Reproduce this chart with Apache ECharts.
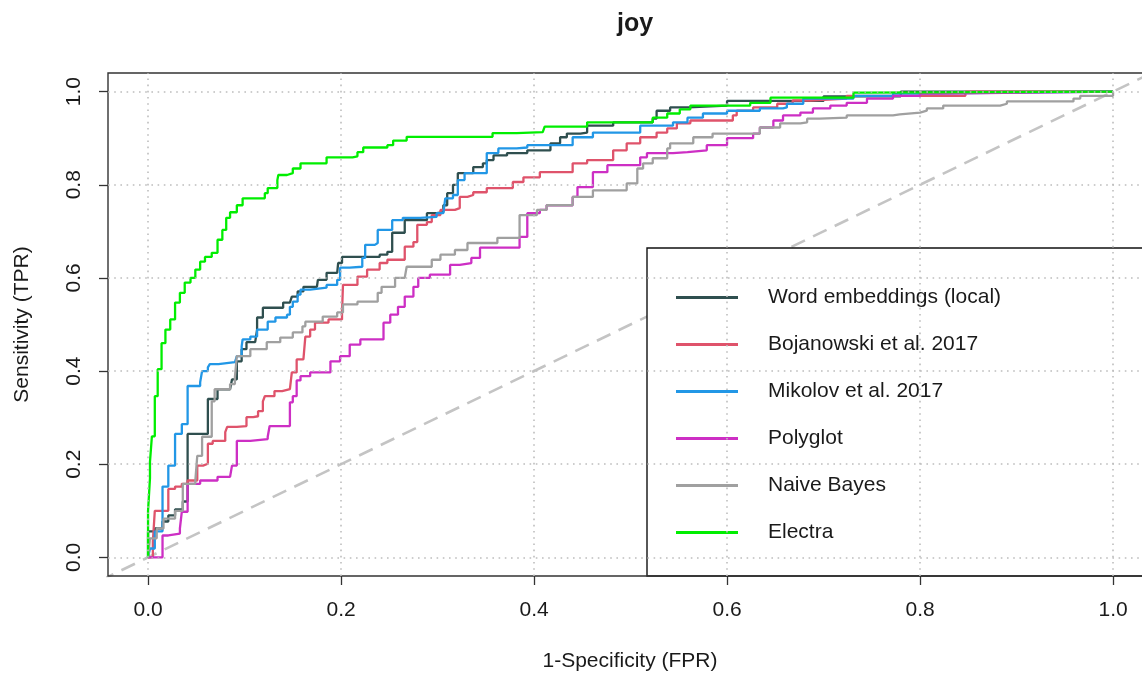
<!DOCTYPE html>
<html>
<head>
<meta charset="utf-8">
<title>joy</title>
<script src="https://cdn.jsdelivr.net/npm/echarts@6/dist/echarts.min.js"></script>
<style>
  html, body { margin: 0; padding: 0; background: #fff; }
  #chart { width: 1142px; height: 684px; }
</style>
</head>
<body>
<div id="chart"></div>
<script>
// ROC curves for the "joy" classifier comparison: [FPR, TPR] vertices of each curve.
const seriesNames = [
  'Word embeddings (local)',
  'Bojanowski et al. 2017',
  'Mikolov et al. 2017',
  'Polyglot',
  'Naive Bayes',
  'Electra'
];
const seriesColors = ['#2F4F4F', '#DF536B', '#2297E6', '#CD2FC4', '#A0A0A0', '#00EE00'];

const tickValues = [0, 0.2, 0.4, 0.6, 0.8, 1.0];

const wordEmbeddings = [
  [0,0],[0,0.056],[0.007,0.056],[0.007,0.062],[0.015,0.062],[0.015,0.077],[0.021,0.077],
  [0.021,0.090],[0.028,0.090],[0.028,0.103],[0.036,0.103],[0.036,0.120],[0.041,0.120],
  [0.041,0.265],[0.062,0.265],[0.062,0.340],[0.069,0.340],[0.072,0.361],[0.085,0.361],
  [0.087,0.382],[0.092,0.382],[0.092,0.421],[0.097,0.421],[0.097,0.447],[0.102,0.447],
  [0.102,0.462],[0.111,0.462],[0.113,0.489],[0.113,0.515],[0.119,0.515],[0.119,0.536],
  [0.140,0.536],[0.140,0.547],[0.147,0.547],[0.149,0.560],[0.155,0.571],[0.161,0.581],
  [0.175,0.581],[0.176,0.596],[0.185,0.603],[0.185,0.611],[0.196,0.611],[0.197,0.632],
  [0.201,0.645],[0.220,0.645],[0.240,0.650],[0.248,0.656],[0.253,0.697],[0.263,0.697],
  [0.266,0.724],[0.289,0.739],[0.299,0.741],[0.306,0.756],[0.310,0.782],[0.316,0.800],
  [0.321,0.810],[0.321,0.825],[0.337,0.838],[0.347,0.846],[0.351,0.853],[0.358,0.863],
  [0.372,0.868],[0.393,0.874],[0.417,0.889],[0.427,0.902],[0.434,0.910],[0.448,0.912],
  [0.455,0.927],[0.482,0.934],[0.523,0.942],[0.527,0.959],[0.541,0.966],[0.560,0.970],
  [0.600,0.980],[0.700,0.990],[0.780,1.0],[1.0,1.0]
];

const bojanowski = [
  [0,0],[0.005,0.034],[0.007,0.100],[0.015,0.100],[0.021,0.147],[0.028,0.152],[0.035,0.158],
  [0.041,0.165],[0.051,0.197],[0.057,0.201],[0.062,0.244],[0.067,0.250],[0.080,0.269],
  [0.082,0.280],[0.092,0.282],[0.102,0.301],[0.109,0.303],[0.114,0.314],[0.119,0.335],
  [0.121,0.346],[0.131,0.357],[0.139,0.361],[0.147,0.365],[0.149,0.397],[0.154,0.425],
  [0.161,0.425],[0.163,0.474],[0.168,0.489],[0.173,0.504],[0.187,0.511],[0.201,0.526],
  [0.202,0.585],[0.217,0.603],[0.227,0.618],[0.240,0.632],[0.248,0.639],[0.266,0.667],
  [0.275,0.677],[0.279,0.714],[0.289,0.720],[0.294,0.735],[0.303,0.746],[0.318,0.750],
  [0.323,0.774],[0.331,0.778],[0.337,0.784],[0.351,0.793],[0.378,0.806],[0.389,0.816],
  [0.406,0.827],[0.440,0.846],[0.455,0.853],[0.482,0.874],[0.496,0.889],[0.510,0.902],
  [0.527,0.912],[0.538,0.921],[0.548,0.932],[0.562,0.938],[0.606,0.949],[0.610,0.959],
  [0.627,0.966],[0.652,0.974],[0.668,0.981],[0.686,0.985],[0.724,0.991],[0.847,0.991],
  [0.847,1.0],[1.0,1.0]
];

const mikolov = [
  [0,0],[0.002,0.019],[0.007,0.026],[0.007,0.056],[0.015,0.056],[0.015,0.152],[0.021,0.152],
  [0.021,0.197],[0.028,0.197],[0.028,0.265],[0.035,0.265],[0.035,0.286],[0.041,0.286],
  [0.041,0.368],[0.054,0.376],[0.056,0.400],[0.062,0.408],[0.064,0.415],[0.073,0.419],
  [0.090,0.419],[0.092,0.432],[0.097,0.453],[0.098,0.468],[0.106,0.474],[0.113,0.489],
  [0.124,0.506],[0.132,0.515],[0.144,0.521],[0.147,0.538],[0.150,0.549],[0.155,0.564],
  [0.158,0.575],[0.168,0.579],[0.185,0.585],[0.196,0.596],[0.199,0.622],[0.209,0.624],
  [0.222,0.643],[0.225,0.671],[0.235,0.675],[0.238,0.703],[0.253,0.724],[0.264,0.729],
  [0.282,0.731],[0.299,0.739],[0.306,0.741],[0.308,0.771],[0.316,0.778],[0.321,0.810],
  [0.328,0.825],[0.351,0.868],[0.363,0.878],[0.382,0.880],[0.393,0.885],[0.440,0.902],
  [0.461,0.912],[0.510,0.927],[0.544,0.934],[0.559,0.944],[0.575,0.953],[0.600,0.959],
  [0.634,0.964],[0.658,0.966],[0.662,0.974],[0.679,0.976],[0.679,0.985],[0.731,0.991],
  [0.772,0.996],[0.800,1.0],[1.0,1.0]
];

const polyglot = [
  [0,0],[0.015,0.034],[0.015,0.047],[0.021,0.051],[0.033,0.062],[0.035,0.098],[0.041,0.098],
  [0.041,0.158],[0.054,0.165],[0.072,0.173],[0.085,0.175],[0.087,0.197],[0.092,0.201],
  [0.092,0.250],[0.106,0.254],[0.124,0.259],[0.126,0.282],[0.147,0.333],[0.150,0.346],
  [0.154,0.380],[0.158,0.389],[0.168,0.397],[0.189,0.421],[0.199,0.432],[0.209,0.457],
  [0.220,0.468],[0.244,0.504],[0.251,0.521],[0.259,0.538],[0.266,0.560],[0.275,0.581],
  [0.280,0.600],[0.292,0.607],[0.313,0.628],[0.323,0.632],[0.335,0.643],[0.344,0.665],
  [0.385,0.688],[0.393,0.739],[0.406,0.746],[0.413,0.756],[0.440,0.774],[0.445,0.795],
  [0.461,0.827],[0.476,0.842],[0.510,0.859],[0.517,0.868],[0.544,0.870],[0.559,0.874],
  [0.579,0.885],[0.600,0.900],[0.627,0.910],[0.634,0.923],[0.648,0.938],[0.658,0.949],
  [0.676,0.955],[0.689,0.964],[0.707,0.970],[0.724,0.976],[0.745,0.985],[0.772,0.991],
  [0.800,0.996],[0.820,1.0],[1.0,1.0]
];

const naiveBayes = [
  [0,0],[0.002,0.041],[0.009,0.041],[0.009,0.062],[0.016,0.062],[0.016,0.083],[0.028,0.083],
  [0.028,0.100],[0.036,0.100],[0.036,0.158],[0.049,0.165],[0.051,0.218],[0.056,0.237],
  [0.056,0.259],[0.066,0.259],[0.066,0.335],[0.069,0.361],[0.085,0.372],[0.090,0.387],
  [0.092,0.432],[0.106,0.447],[0.123,0.462],[0.137,0.472],[0.150,0.483],[0.160,0.496],
  [0.163,0.506],[0.181,0.517],[0.196,0.526],[0.202,0.543],[0.217,0.549],[0.238,0.568],
  [0.242,0.581],[0.256,0.600],[0.266,0.603],[0.268,0.624],[0.294,0.639],[0.303,0.650],
  [0.318,0.660],[0.331,0.675],[0.362,0.686],[0.385,0.692],[0.385,0.735],[0.403,0.746],
  [0.413,0.756],[0.440,0.774],[0.461,0.788],[0.496,0.803],[0.507,0.835],[0.513,0.846],
  [0.523,0.857],[0.538,0.878],[0.541,0.889],[0.565,0.902],[0.585,0.910],[0.634,0.923],
  [0.655,0.932],[0.676,0.934],[0.683,0.942],[0.696,0.944],[0.724,0.949],[0.772,0.951],
  [0.779,0.955],[0.800,0.959],[0.807,0.964],[0.824,0.970],[0.883,0.974],[0.890,0.979],
  [0.959,0.985],[0.966,0.991],[1.0,0.998],[1.0,1.0]
];

const electra = [
  [0,0],[0,0.100],[0.002,0.170],[0.002,0.205],[0.004,0.260],[0.007,0.346],[0.010,0.404],
  [0.014,0.460],[0.018,0.489],[0.023,0.511],[0.028,0.547],[0.033,0.568],[0.038,0.590],
  [0.044,0.600],[0.049,0.618],[0.054,0.635],[0.059,0.645],[0.066,0.654],[0.072,0.682],
  [0.077,0.703],[0.081,0.729],[0.085,0.741],[0.092,0.756],[0.098,0.771],[0.114,0.771],
  [0.121,0.782],[0.124,0.793],[0.134,0.810],[0.135,0.821],[0.144,0.825],[0.150,0.835],
  [0.158,0.846],[0.180,0.846],[0.185,0.859],[0.212,0.861],[0.217,0.870],[0.223,0.880],
  [0.248,0.885],[0.254,0.895],[0.268,0.903],[0.354,0.903],[0.357,0.911],[0.382,0.913],
  [0.409,0.917],[0.411,0.925],[0.444,0.925],[0.455,0.934],[0.523,0.944],[0.538,0.953],
  [0.551,0.962],[0.562,0.970],[0.624,0.976],[0.645,0.987],[0.731,0.998],[0.740,1.0],[1.0,1.0]
];

const curves = [wordEmbeddings, bojanowski, mikolov, polyglot, naiveBayes, electra];

// chance line, clipped to the plotting region
const chanceLine = [[-0.05, -0.05], [1.05, 1.05]];

// visible window of the axes (the right end of the plot region runs past the page edge)
const X_RANGE = [-0.0415, 1.030];
const Y_RANGE = [-0.04, 1.04];

const FONT = '"Liberation Sans", Arial, Helvetica, sans-serif';
const TEXT = '#1a1a1a';

const GRID = { left: 108, top: 73, right: 0, bottom: 108 };

const chart = echarts.init(document.getElementById('chart'), null, { renderer: 'canvas' });

const gridMarks = tickValues.map(v => ({ xAxis: v }))
  .concat(tickValues.map(v => ({ yAxis: v })));

const series = [{
  name: 'chance',
  type: 'line',
  data: chanceLine,
  symbol: 'none',
  silent: true,
  z: 1,
  lineStyle: { color: '#C4C4C4', width: 2.6, type: [15, 9] },
  markLine: {
    silent: true,
    symbol: 'none',
    label: { show: false },
    lineStyle: { color: '#BDBDBD', width: 1.6, type: [1.6, 4.6] },
    data: gridMarks,
    animation: false
  }
}].concat(curves.map((d, i) => ({
  name: seriesNames[i],
  type: 'line',
  data: d,
  step: 'end',
  symbol: 'none',
  z: 2,
  color: seriesColors[i],
  lineStyle: { color: seriesColors[i], width: 2.3 }
})));

const axisCommon = {
  type: 'value',
  axisLine: { show: false, onZero: false },
  axisTick: { show: true, inside: false, customValues: tickValues, length: 9, lineStyle: { color: '#333', width: 1.3 } },
  splitLine: { show: false },
  nameLocation: 'middle', nameGap: 75
};

chart.setOption({
  animation: false,
  backgroundColor: '#fff',
  title: {
    text: 'joy',
    left: 630,
    textAlign: 'center',
    top: 7,
    textStyle: { fontFamily: FONT, fontSize: 25, fontWeight: 'bold', color: TEXT }
  },
  grid: Object.assign({ show: false }, GRID),
  xAxis: Object.assign({}, axisCommon, {
    min: X_RANGE[0], max: X_RANGE[1],
    axisLabel: {
      customValues: tickValues, formatter: v => v.toFixed(1), margin: 24,
      fontSize: 21, color: TEXT, fontFamily: FONT
    },
    name: '1-Specificity (FPR)',
    nameGap: 75,
    nameTextStyle: { fontSize: 21, color: TEXT, fontFamily: FONT, padding: [0, 0, 0, 10] }
  }),
  yAxis: Object.assign({}, axisCommon, {
    min: Y_RANGE[0], max: Y_RANGE[1],
    axisLabel: {
      customValues: tickValues, formatter: v => v.toFixed(1), margin: 23, rotate: 90,
      fontSize: 21, color: TEXT, fontFamily: FONT
    },
    name: 'Sensitivity (TPR)',
    nameTextStyle: { fontSize: 21, color: TEXT, fontFamily: FONT }
  }),
  graphic: [
    {
      // plot frame; its right side lies beyond the page edge
      type: 'polyline',
      z: 5,
      silent: true,
      shape: { points: [[1160, GRID.top], [GRID.left, GRID.top], [GRID.left, 684 - GRID.bottom], [1160, 684 - GRID.bottom]] },
      style: { fill: null, stroke: '#333', lineWidth: 1.4 }
    },
    {
      type: 'rect',
      z: 3,
      silent: true,
      shape: { x: 647, y: 248, width: 620, height: 328 },
      style: { fill: '#fff', stroke: '#111', lineWidth: 1.4 }
    }
  ],
  legend: {
    data: seriesNames,
    orient: 'vertical',
    left: 676, top: 287,
    padding: 0,
    icon: 'rect',
    itemWidth: 62, itemHeight: 3, itemGap: 26,
    selectedMode: false,
    z: 4,
    textStyle: { fontSize: 21, color: TEXT, fontFamily: FONT, padding: [0, 0, 0, 25] }
  },
  series: series
});
</script>
</body>
</html>
